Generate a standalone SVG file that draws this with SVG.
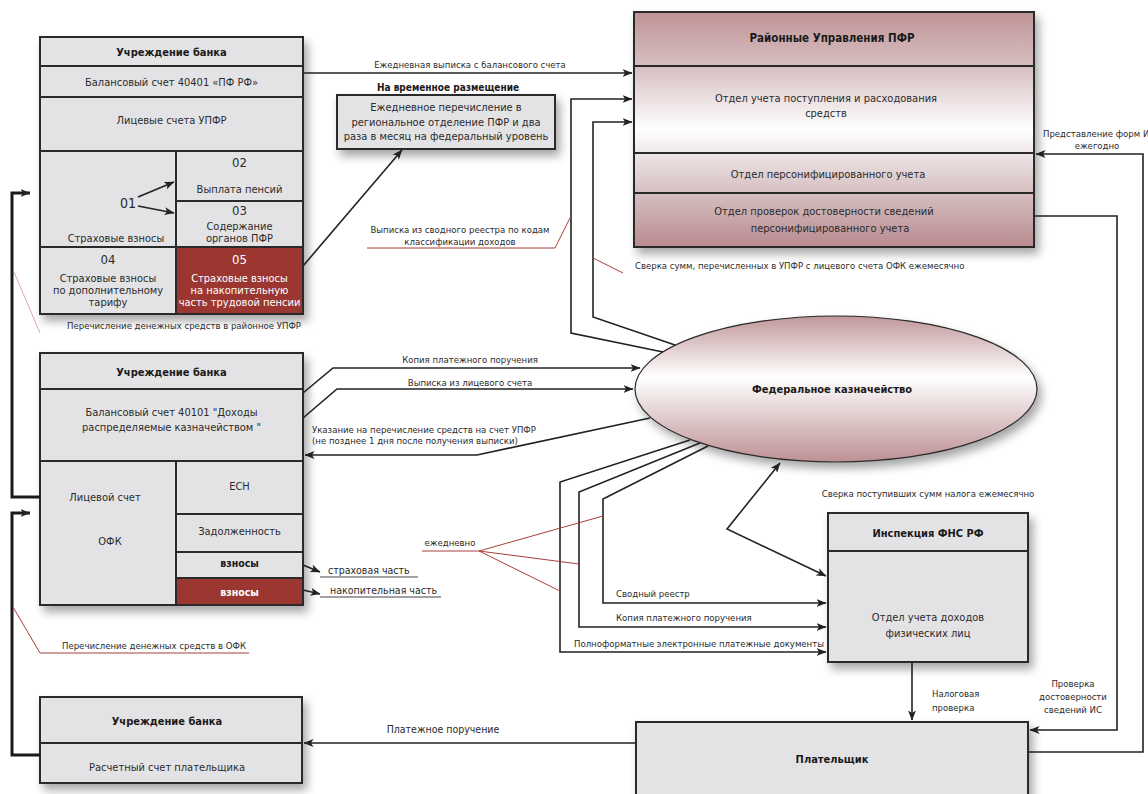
<svg xmlns="http://www.w3.org/2000/svg" width="1148" height="794" viewBox="0 0 1148 794">
<defs>
<style>
text{font-family:"Liberation Sans Narrow","DejaVu Sans Condensed","Arial Narrow","Liberation Sans",sans-serif;fill:#2b2b2b}
.t{font-size:11px}
.b{font-size:11px;font-weight:bold;fill:#1a1a1a}
.s{font-size:9.5px}
.w{fill:#ffffff}
.m{text-anchor:middle}
.box{fill:#e3e3e5;stroke:#2a2a2a;stroke-width:2}
.div{stroke:#2a2a2a;stroke-width:2;fill:none}
.red{fill:#9b3630}
.ln{fill:none;stroke:#222;stroke-width:1.6}
.thk{fill:none;stroke:#1a1a1a;stroke-width:3}
.rl{fill:none;stroke:#a8403a;stroke-width:1}
.rlf{fill:none;stroke:#dcaaa6;stroke-width:1}
.ul{fill:none;stroke:#444;stroke-width:1.2}
</style>
<filter id="sh" x="-10%" y="-10%" width="130%" height="140%">
<feDropShadow dx="4" dy="6" stdDeviation="5" flood-color="#000" flood-opacity="0.35"/>
</filter>
<linearGradient id="gp" x1="0" y1="0" x2="0" y2="1">
<stop offset="0" stop-color="#bf9396"/>
<stop offset="0.25" stop-color="#d9c3c5"/>
<stop offset="0.5" stop-color="#ffffff"/>
<stop offset="0.65" stop-color="#e6dadb"/>
<stop offset="1" stop-color="#b88b8f"/>
</linearGradient>
<linearGradient id="ge" x1="0" y1="0" x2="0" y2="1">
<stop offset="0" stop-color="#c0979a"/>
<stop offset="0.42" stop-color="#ffffff"/>
<stop offset="1" stop-color="#bd9093"/>
</linearGradient>
<marker id="ah" viewBox="0 0 10 8" refX="9.5" refY="4" markerWidth="10" markerHeight="8" markerUnits="userSpaceOnUse" orient="auto-start-reverse">
<path d="M0,0 L10,4 L0,8 L2.5,4 z" fill="#222"/>
</marker>
</defs>
<rect width="1148" height="794" fill="#ffffff"/>

<g id="bank1">
<rect x="40" y="37" width="263" height="277" class="box" filter="url(#sh)"/>
<rect x="176" y="247" width="127" height="67" class="red"/>
<rect x="40" y="37" width="263" height="277" class="div"/>
<path class="div" d="M40,66H303M40,97H303M40,151H303M176,151V314M176,201H303M40,247H303"/>
<text x="171.5" y="56" class="b m">Учреждение банка</text>
<text x="171.5" y="86" class="t m">Балансовый счет 40401 «ПФ РФ»</text>
<text x="171.5" y="124" class="t m">Лицевые счета УПФР</text>
<text x="239.5" y="167" class="t m" style="font-size:13px">02</text>
<text x="239.5" y="193" class="t m">Выплата пенсий</text>
<text x="128" y="208" class="t m" style="font-size:14px">01</text>
<text x="239.5" y="215" class="t m" style="font-size:13px">03</text>
<text x="239.5" y="230" class="t m">Содержание</text>
<text x="239.5" y="242" class="t m">органов ПФР</text>
<text x="116" y="242" class="t m">Страховые взносы</text>
<text x="108" y="264" class="t m" style="font-size:13px">04</text>
<text x="108" y="282" class="t m">Страховые взносы</text>
<text x="108" y="294" class="t m">по дополнительному</text>
<text x="108" y="306" class="t m">тарифу</text>
<text x="239.5" y="264" class="t m w" style="font-size:13px">05</text>
<text x="239.5" y="282" class="t m w">Страховые взносы</text>
<text x="239.5" y="294" class="t m w">на накопительную</text>
<text x="239.5" y="306" class="t m w">часть трудовой пенсии</text>
</g>

<g id="temp">
<rect x="337" y="95" width="218" height="54" class="box" filter="url(#sh)"/>
<text x="446" y="111" class="t m">Ежедневное перечисление в</text>
<text x="446" y="126" class="t m">региональное отделение ПФР и два</text>
<text x="446" y="140" class="t m">раза в месяц на федеральный уровень</text>
</g>

<g id="pfr">
<rect x="634" y="12" width="400" height="235" fill="url(#gp)" stroke="#2a2a2a" stroke-width="2" filter="url(#sh)"/>
<path class="div" d="M634,66H1034M634,153H1034M634,193H1034"/>
<text x="832" y="42" class="b m" style="font-size:11.5px">Районные Управления ПФР</text>
<text x="826" y="102" class="t m">Отдел учета поступления и расходования</text>
<text x="826" y="117" class="t m">средств</text>
<text x="828" y="178" class="t m">Отдел персонифицированного учета</text>
<text x="824" y="215" class="t m">Отдел проверок достоверности сведений</text>
<text x="830" y="232" class="t m">персонифицированного учета</text>
</g>

<g id="bank2">
<rect x="40" y="353" width="263" height="252" class="box" filter="url(#sh)"/>
<rect x="176" y="578" width="127" height="27" class="red"/>
<rect x="40" y="353" width="263" height="252" class="div"/>
<path class="div" d="M40,389H303M40,461H303M176,461V605M176,514H303M176,552H303M176,578H303"/>
<text x="171.5" y="376" class="b m">Учреждение банка</text>
<text x="171.5" y="416" class="t m">Балансовый счет 40101 "Доходы</text>
<text x="171.5" y="431" class="t m">распределяемые казначейством "</text>
<text x="105" y="501" class="t m">Лицевой счет</text>
<text x="110" y="545" class="t m">ОФК</text>
<text x="239.5" y="490" class="t m">ЕСН</text>
<text x="239.5" y="535" class="t m">Задолженность</text>
<text x="239.5" y="567" class="b m" style="font-size:10.5px">взносы</text>
<text x="239.5" y="596" class="b m w" style="font-size:10.5px">взносы</text>
</g>

<g id="treasury">
<ellipse cx="836" cy="389" rx="201" ry="73" fill="url(#ge)" stroke="#2a2a2a" stroke-width="1.2" filter="url(#sh)"/>
<text x="832" y="393" class="b m">Федеральное казначейство</text>
</g>

<g id="fns">
<rect x="828" y="513" width="200" height="149" class="box" filter="url(#sh)"/>
<path class="div" d="M828,551H1028"/>
<text x="928" y="537" class="b m">Инспекция ФНС РФ</text>
<text x="928" y="621" class="t m">Отдел учета доходов</text>
<text x="928" y="637" class="t m">физических лиц</text>
</g>

<g id="bank3">
<rect x="40" y="697" width="262" height="86" class="box" filter="url(#sh)"/>
<path class="div" d="M40,743H302"/>
<text x="167" y="725" class="b m">Учреждение банка</text>
<text x="167" y="771" class="t m">Расчетный счет плательщика</text>
</g>

<g id="payer">
<rect x="636" y="722" width="392" height="90" class="box" filter="url(#sh)"/>
<text x="832" y="763" class="b m">Плательщик</text>
</g>

<g id="connectors">
<path class="thk" d="M40,497H12V193H30" marker-end="url(#ah)"/>
<path class="thk" d="M40,755H12V513H30" marker-end="url(#ah)"/>
<path class="ln" d="M138,197L174,182" marker-end="url(#ah)"/>
<path class="ln" d="M138,206L174,213" marker-end="url(#ah)"/>
<path class="ln" d="M303,73H632" marker-end="url(#ah)"/>
<path class="ln" d="M303,266L402,150" marker-end="url(#ah)"/>
<path class="ln" d="M663,352L571,333V99H632" marker-end="url(#ah)"/>
<path class="ln" d="M675,345L593,317V122H632" marker-end="url(#ah)"/>
<path class="ln" d="M303,393L333,368H640" marker-end="url(#ah)"/>
<path class="ln" d="M303,418L337,389H633" marker-end="url(#ah)"/>
<path class="ln" d="M650,418L477,455H305" marker-end="url(#ah)"/>
<path class="ln" d="M690,440L560,482V652H826" marker-end="url(#ah)"/>
<path class="ln" d="M700,443L579,492V627H826" marker-end="url(#ah)"/>
<path class="ln" d="M708,446L603,499V603H826" marker-end="url(#ah)"/>
<path class="ln" d="M826,576L727,529L780,463" marker-start="url(#ah)" marker-end="url(#ah)"/>
<path class="ln" d="M303,565L320,572" marker-end="url(#ah)"/>
<path class="ln" d="M303,590L320,594" marker-end="url(#ah)"/>
<path class="ul" d="M320,577H418M320,597H441"/>
<path class="ln" d="M636,743H304" marker-end="url(#ah)"/>
<path class="ln" d="M912,662V720" marker-end="url(#ah)"/>
<path class="ln" d="M1028,752H1143V154H1036" marker-end="url(#ah)"/>
<path class="ln" d="M1034,216H1117V730H1030" marker-end="url(#ah)"/>
<path class="rl" d="M422,551H479L603,516M479,551L579,564M479,551L560,591"/>
<path class="rl" d="M367,248H555L570,218"/>
<path class="rl" d="M593,258L623,273"/>
<path class="rl" d="M13,607L40,653H249"/>
<path class="rlf" d="M14,272L40,333"/>
</g>

<g id="labels">
<text x="448" y="91" class="b m" style="font-size:10px">На временное размещение</text>
<text x="470" y="68" class="s m">Ежедневная выписка с балансового счета</text>
<text x="460" y="233" class="s m">Выписка из сводного реестра по кодам</text>
<text x="460" y="245" class="s m">классификации доходов</text>
<text x="184" y="329" class="s m">Перечисление денежных средств в районное УПФР</text>
<text x="635" y="269" class="s">Сверка сумм, перечисленных в УПФР с лицевого счета ОФК ежемесячно</text>
<text x="1043" y="137" class="s">Представление форм И</text>
<text x="1097" y="149" class="s m">ежегодно</text>
<text x="470" y="363" class="s m">Копия платежного поручения</text>
<text x="470" y="386" class="s m">Выписка из лицевого счета</text>
<text x="312" y="433" class="s">Указание на перечисление средств на счет УПФР</text>
<text x="312" y="444" class="s">(не позднее 1 дня после получения выписки)</text>
<text x="928" y="497" class="s m">Сверка поступивших сумм налога ежемесячно</text>
<text x="450" y="546" class="s m">ежедневно</text>
<text x="328" y="574" class="t" style="font-size:10.5px">страховая часть</text>
<text x="330" y="594" class="t" style="font-size:10.5px">накопительная часть</text>
<text x="616" y="597" class="s">Сводный реестр</text>
<text x="616" y="621" class="s">Копия платежного поручения</text>
<text x="574" y="647" class="s">Полноформатные электронные платежные документы</text>
<text x="154" y="649" class="s m">Перечисление денежных средств в ОФК</text>
<text x="932" y="697" class="s">Налоговая</text>
<text x="932" y="711" class="s">проверка</text>
<text x="1073" y="687" class="s m">Проверка</text>
<text x="1073" y="700" class="s m">достоверности</text>
<text x="1073" y="713" class="s m">сведений ИС</text>
<text x="443" y="733" class="t m" style="font-size:10.5px">Платежное поручение</text>
</g>
</svg>
